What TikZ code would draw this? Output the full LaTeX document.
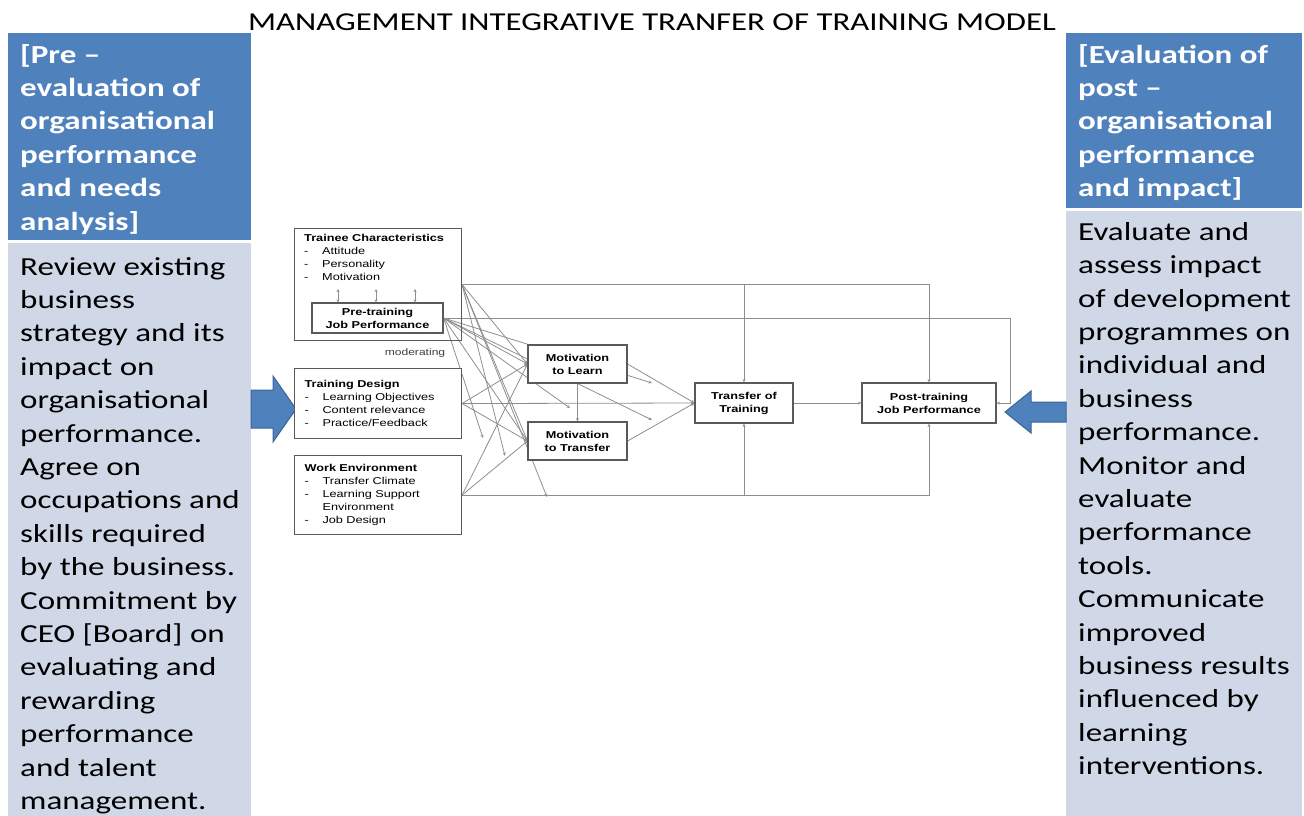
\documentclass[tikz,border=0pt]{standalone}
\usepackage{fontspec}
\setmainfont{Carlito}[FakeStretch=1.27]
\newfontfamily\diagfont{Liberation Sans}[FakeStretch=1.27]
\usetikzlibrary{arrows.meta,backgrounds}

\definecolor{hdrblue}{HTML}{4F81BD}
\definecolor{bodyblue}{HTML}{D0D8E8}
\definecolor{arrowedge}{HTML}{3A6496}
\definecolor{diagline}{HTML}{8E8E8E}
\definecolor{diagedge}{HTML}{5A5A5A}

\tikzset{
  colhead/.style={anchor=north west, inner sep=0pt, align=left, text=white,
    font=\fontsize{26}{33.4}\selectfont\bfseries},
  coltext/.style={anchor=north west, inner sep=0pt, align=left,
    font=\fontsize{26}{33.4}\selectfont},
  cbox/.style={draw=diagedge, fill=white, line width=1.1pt, inner sep=0pt,
    font=\diagfont\fontsize{10}{13}\selectfont\bfseries, align=center},
  listbox/.style={cbox, anchor=north west, align=left, inner xsep=10pt,
    text width=147pt, font=\diagfont\fontsize{10}{13}\selectfont},
  link/.style={draw=diagline, line width=0.8pt, -{Stealth[length=3.5pt,width=3pt]}},
  bigarrow/.style={fill=hdrblue, draw=arrowedge, line width=1pt}
}
\newcommand{\itm}[1]{\makebox[18pt][l]{-}#1}

\begin{document}
\begin{tikzpicture}[x=1pt,y=-1pt]
  \useasboundingbox (0,0) rectangle (1304,816);

  % title
  \node[font=\fontsize{25.8}{30}\selectfont] (title) at (652,22)
    {MANAGEMENT INTEGRATIVE TRANFER OF TRAINING MODEL};

  % left column
  \fill[hdrblue] (8,33) rectangle (251,240);
  \fill[bodyblue] (8,243) rectangle (251,816);
  \node[colhead] (prehead) at (20,44)
    {[Pre --\\evaluation of\\organisational\\performance\\and needs\\analysis]};
  \node[coltext] (pretext) at (20,257)
    {Review existing\\business\\strategy and its\\impact on\\organisational\\performance.\\
     Agree on\\occupations and\\skills required\\by the business.\\Commitment by\\
     CEO [Board] on\\evaluating and\\rewarding\\performance\\and talent\\management.};

  % right column
  \fill[hdrblue] (1066,33) rectangle (1302,208);
  \fill[bodyblue] (1066,211) rectangle (1302,816);
  \node[colhead] (posthead) at (1078,44)
    {[Evaluation of\\post --\\organisational\\performance\\and impact]};
  \node[coltext] (posttext) at (1078,222)
    {Evaluate and\\assess impact\\of development\\programmes on\\individual and\\business\\
     performance.\\Monitor and\\evaluate\\performance\\tools.\\Communicate\\improved\\
     business results\\influenced by\\learning\\interventions.};

  % block arrows
  \draw[bigarrow] (251,390) -- (273,390) -- (273,376) -- (296,409)
    -- (273,442) -- (273,428) -- (251,428) -- cycle;
  \draw[bigarrow] (1066,402) -- (1031,402) -- (1031,391) -- (1005,412)
    -- (1031,433) -- (1031,422) -- (1066,422) -- cycle;

  % central model
  \node[cbox, fill=none, minimum width=167, minimum height=112, anchor=north west]
    (trainee) at (294,228) {};
  \node[anchor=north west, inner sep=0pt, align=left,
    font=\diagfont\fontsize{10}{13}\selectfont] (traineetxt) at (304,234)
    {\textbf{Trainee Characteristics}\\\itm{Attitude}\\\itm{Personality}\\\itm{Motivation}};
  \node[cbox, minimum width=131, minimum height=30] (pre) at (377.5,318)
    {Pre-training\\Job Performance};
  \node[listbox, minimum height=70] (design) at (294,368)
    {\textbf{Training Design}\\\itm{Learning Objectives}\\\itm{Content relevance}\\
     \itm{Practice/Feedback}};
  \node[listbox, minimum height=79] (work) at (294,455)
    {\textbf{Work Environment}\\\itm{Transfer Climate}\\\itm{Learning Support}\\
     \hspace*{18pt}Environment\\\itm{Job Design}};
  \node[cbox, minimum width=99, minimum height=38] (mtl) at (577.5,364)
    {Motivation\\to Learn};
  \node[cbox, minimum width=99, minimum height=38] (mtt) at (577.5,441)
    {Motivation\\to Transfer};
  \node[cbox, minimum width=98, minimum height=40] (transfer) at (744,403)
    {Transfer of\\Training};
  \node[cbox, minimum width=134, minimum height=40] (post) at (929,403)
    {Post-training\\Job Performance};
  \node[font=\diagfont\fontsize{9.5}{11}\selectfont, text=black!75] (moder) at (415,353)
    {moderating};

  % ends of the moderating paths
  \coordinate (m1) at (547,497);
  \coordinate (m2) at (505,456);
  \coordinate (m3) at (483,438);
  \coordinate (m4) at (570,408);
  \coordinate (m5) at (652,383);
  \coordinate (m6) at (652,420);
  \coordinate (fb) at (1010,318);

  \begin{pgfonlayer}{background}
    \foreach \x in {338,376,415}
      \draw[link, {Stealth[length=3pt,width=3pt]}-{Stealth[length=3pt,width=3pt]}]
        (\x,289) -- (\x,0 |- pre.north);
    % outer frame of paths
    \draw[link] (trainee.east) -| (post.north);
    \draw[link] (transfer.north |- trainee.east) -- (transfer.north);
    \draw[link] (work.east) -| (post.south);
    \draw[link] (transfer.south |- work.east) -- (transfer.south);
    \draw[link] (pre.east) -- (fb) |- (post.east);
    % main paths
    \foreach \a/\b in {trainee/mtl, trainee/mtt, pre/mtl, pre/mtt,
                       design/mtl, design/mtt, work/mtl, work/mtt}
      \draw[link] (\a.east) -- (\b.west);
    \draw[link] (design.east) -- (transfer.west);
    \draw[link] (mtl.east) -- (transfer.west);
    \draw[link] (mtt.east) -- (transfer.west);
    \draw[link] (mtl.south) -- (mtt.north);
    \draw[link] (transfer.east) -- (post.west);
    % moderating paths
    \foreach \m in {m1,m2}
      \draw[link] (trainee.east) -- (\m);
    \foreach \m in {m3,m4,m5,m6}
      \draw[link] (pre.east) -- (\m);
  \end{pgfonlayer}
\end{tikzpicture}
\end{document}
